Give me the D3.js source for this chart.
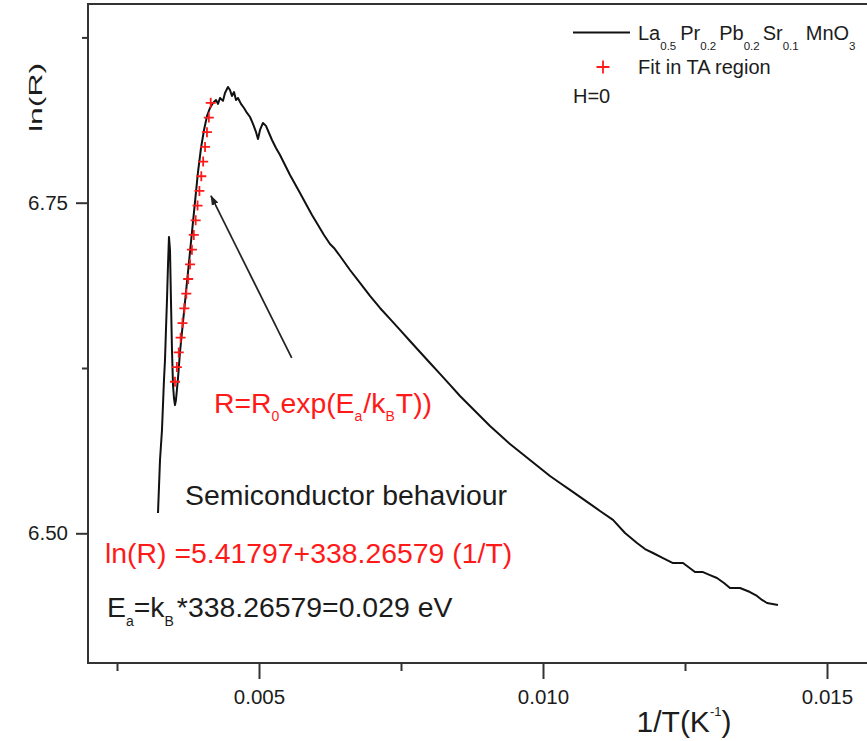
<!DOCTYPE html>
<html><head><meta charset="utf-8">
<script src="https://cdn.jsdelivr.net/npm/d3@7"></script>
<style>
body{margin:0;background:#fff;}
svg{display:block;font-family:"Liberation Sans",Arial,sans-serif;}
</style>
</head><body>
<svg id="c" width="867" height="741"></svg>
<script>
// ---- data ----
const curveX = [0.003222,0.003257,0.003292,0.003327,0.003345,0.003362,0.003380,0.003398,0.003415,0.003433,
0.003450,0.003468,0.003486,0.003503,0.003521,0.003538,0.003574,0.003609,0.003662,0.003715,
0.003768,0.003820,0.003873,0.003926,0.003979,0.004032,0.004085,0.004137,0.004190,0.004243,
0.004278,0.004313,0.004366,0.004401,0.004454,0.004489,0.004524,0.004560,0.004595,0.004630,
0.004683,0.004736,0.004789,0.004842,0.004894,0.004947,0.004982,0.005018,0.005070,0.005123,
0.005176,0.005229,0.005299,0.005370,0.005458,0.005546,0.005634,0.005722,0.005827,0.005933,
0.006039,0.006144,0.006250,0.006320,0.006426,0.006602,0.006778,0.006954,0.007130,0.007306,
0.007482,0.007658,0.007834,0.008011,0.008187,0.008363,0.008539,0.008715,0.008891,0.009067,
0.009243,0.009419,0.009595,0.009771,0.009947,0.010123,0.010299,0.010475,0.010651,0.010827,
0.011004,0.011232,0.011444,0.011655,0.011796,0.011937,0.012113,0.012289,0.012465,0.012676,
0.012817,0.012940,0.013063,0.013187,0.013292,0.013468,0.013644,0.013768,0.013856,0.013944,0.014137];
const curveY = [6.5154,6.5554,6.5781,6.6159,6.6311,6.6537,6.6764,6.7029,6.7241,6.7142,
6.6764,6.6386,6.6121,6.6023,6.5970,6.6008,6.6174,6.6371,6.6598,6.6825,
6.7052,6.7278,6.7505,6.7732,6.7914,6.8050,6.8156,6.8216,6.8254,6.8277,
6.8247,6.8292,6.8270,6.8330,6.8375,6.8352,6.8307,6.8337,6.8277,6.8292,
6.8247,6.8216,6.8179,6.8148,6.8096,6.8035,6.7982,6.8050,6.8103,6.8081,
6.8027,6.7974,6.7914,6.7861,6.7785,6.7709,6.7641,6.7573,6.7490,6.7407,
6.7331,6.7256,6.7188,6.7158,6.7097,6.6991,6.6893,6.6795,6.6704,6.6621,
6.6538,6.6454,6.6371,6.6288,6.6205,6.6122,6.6038,6.5963,6.5887,6.5811,
6.5743,6.5675,6.5615,6.5554,6.5494,6.5433,6.5380,6.5328,6.5275,6.5222,
6.5169,6.5101,6.5002,6.4927,6.4881,6.4851,6.4813,6.4775,6.4775,6.4707,
6.4707,6.4684,6.4662,6.4624,6.4586,6.4586,6.4556,6.4526,6.4496,6.4473,6.4458];
const fitX = [0.003521,0.003554,0.003587,0.003620,0.003653,0.003686,0.003720,0.003753,0.003786,0.003819,
0.003852,0.003885,0.003918,0.003951,0.003984,0.004017,0.004050,0.004084,0.004117,0.004150];
const fitY = [6.6146,6.6257,6.6368,6.6479,6.6590,6.6701,6.6812,6.6923,6.7034,6.7145,
6.7256,6.7367,6.7478,6.7589,6.7700,6.7811,6.7922,6.8033,6.8144,6.8255];
const xMajorTicks = [0.005, 0.010, 0.015];
const xMinorTicks = [0.0025, 0.0075, 0.0125];
const yMajorTicks = [6.50, 6.75];
const yMinorTicks = [6.625, 6.875];
const arrowFrom = [0.005576, 6.6326];
const arrowTo = [0.004155, 6.7551];

// ---- drawing ----
const svg = d3.select('#c');
const x = d3.scaleLinear().domain([0.010, 0.015]).range([543, 827]);
const y = d3.scaleLinear().domain([6.50, 6.75]).range([533.3, 202.7]);
const L = 88, T = 4, R = 884, B = 663;
const axisColor = '#333';
const red = '#ff1a1a';
const dark = '#1c1c1c';

// frame
svg.append('rect').attr('x', L).attr('y', T).attr('width', R - L).attr('height', B - T)
  .attr('fill', 'none').attr('stroke', axisColor).attr('stroke-width', 2);

function styleAxis(g) {
  g.select('.domain').remove();
  g.selectAll('.tick line').attr('stroke', axisColor).attr('stroke-width', 2);
  g.selectAll('.tick text').attr('fill', dark).attr('font-size', 20.5)
    .attr('font-family', '"Liberation Sans",Arial,sans-serif');
}
svg.append('g').attr('transform', `translate(0,${B})`)
  .call(d3.axisBottom(x).tickValues(xMajorTicks).tickSize(16).tickPadding(10).tickFormat(d3.format('.3f')))
  .call(styleAxis);
svg.append('g').attr('transform', `translate(0,${B})`)
  .call(d3.axisBottom(x).tickValues(xMinorTicks).tickSize(8).tickFormat(''))
  .call(styleAxis);
svg.append('g').attr('transform', `translate(${L},0)`)
  .call(d3.axisLeft(y).tickValues(yMajorTicks).tickSize(12).tickPadding(8).tickFormat(d3.format('.2f')))
  .call(styleAxis);
svg.append('g').attr('transform', `translate(${L},0)`)
  .call(d3.axisLeft(y).tickValues(yMinorTicks).tickSize(6).tickFormat(''))
  .call(styleAxis);

// curve
const curveData = curveX.map((v, i) => [v, curveY[i]]);
svg.append('path').datum(curveData)
  .attr('d', d3.line().x(d => x(d[0])).y(d => y(d[1])))
  .attr('fill', 'none').attr('stroke', '#111').attr('stroke-width', 2).attr('stroke-linejoin', 'round');

// fit crosses
const fitData = fitX.map((v, i) => [v, fitY[i]]);
svg.append('g').selectAll('path').data(fitData).join('path')
  .attr('transform', d => `translate(${x(d[0])},${y(d[1])})`)
  .attr('d', 'M-5,0H5M0,-5V5')
  .attr('stroke', red).attr('stroke-width', 1.8).attr('fill', 'none');

// arrow
const defs = svg.append('defs');
defs.append('marker').attr('id', 'ah').attr('viewBox', '0 0 10 10').attr('refX', 9).attr('refY', 5)
  .attr('markerWidth', 6).attr('markerHeight', 6).attr('orient', 'auto').attr('markerUnits', 'strokeWidth')
  .append('path').attr('d', 'M0,1.5 L10,5 L0,8.5 Z').attr('fill', '#222');
svg.append('line')
  .attr('x1', x(arrowFrom[0])).attr('y1', y(arrowFrom[1]))
  .attr('x2', x(arrowTo[0])).attr('y2', y(arrowTo[1]))
  .attr('stroke', '#222').attr('stroke-width', 1.7).attr('marker-end', 'url(#ah)');

// rich text helper
function rich(px, py, segs, size, color, subSize, subDy) {
  const t = svg.append('text').attr('x', px).attr('y', py).attr('font-size', size).attr('fill', color);
  segs.forEach(s => {
    const ts = t.append('tspan').text(s.t);
    if (s.sub) ts.attr('font-size', subSize).attr('y', py + subDy);
    else ts.attr('y', py);
    if (s.dx) ts.attr('dx', s.dx);
  });
  return t;
}

// legend
svg.append('line').attr('x1', 573).attr('x2', 630).attr('y1', 32.5).attr('y2', 32.5)
  .attr('stroke', '#111').attr('stroke-width', 2);
rich(638, 39.5, [
  {t: 'La'}, {t: '0.5', sub: 1}, {t: 'Pr', dx: 4}, {t: '0.2', sub: 1}, {t: 'Pb', dx: 3},
  {t: '0.2', sub: 1}, {t: 'Sr', dx: 3}, {t: '0.1', sub: 1}, {t: 'MnO', dx: 7}, {t: '3', sub: 1}
], 20, dark, 11.5, 10);
svg.append('path').attr('transform', 'translate(603,67)').attr('d', 'M-6.5,0H6.5M0,-6.5V6.5')
  .attr('stroke', red).attr('stroke-width', 1.8);
svg.append('text').attr('x', 638).attr('y', 74).attr('font-size', 20).attr('fill', dark).text('Fit in TA region');
svg.append('text').attr('x', 573).attr('y', 103).attr('font-size', 20).attr('fill', dark).text('H=0');

// annotations
rich(214, 413, [{t: 'R=R'}, {t: '0', sub: 1}, {t: 'exp(E', dx: 1}, {t: 'a', sub: 1}, {t: '/k', dx: 1}, {t: 'B', sub: 1}, {t: 'T))', dx: 1}],
  28.4, red, 14, 8);
svg.append('text').attr('x', 185).attr('y', 505).attr('font-size', 28.4).attr('fill', dark).text('Semiconductor behaviour');
svg.append('text').attr('x', 105).attr('y', 563).attr('font-size', 28.4).attr('fill', red).text('ln(R) =5.41797+338.26579 (1/T)');
rich(107, 617, [{t: 'E'}, {t: 'a', sub: 1}, {t: '=k'}, {t: 'B', sub: 1}, {t: '*338.26579=0.029 eV', dx: 3}],
  28.4, dark, 14, 9);

// axis titles
svg.append('text').attr('transform', 'translate(42,97.5) rotate(-90) scale(1.77,1)')
  .attr('text-anchor', 'middle').attr('font-size', 18).attr('fill', dark).text('ln(R)');
const xt = svg.append('text').attr('x', 684).attr('y', 732).attr('text-anchor', 'middle')
  .attr('font-size', 30).attr('fill', dark);
xt.append('tspan').text('1/T(K');
xt.append('tspan').attr('font-size', 13).attr('dy', -16).text('-1');
xt.append('tspan').attr('dy', 16).text(')');
</script>
</body></html>
